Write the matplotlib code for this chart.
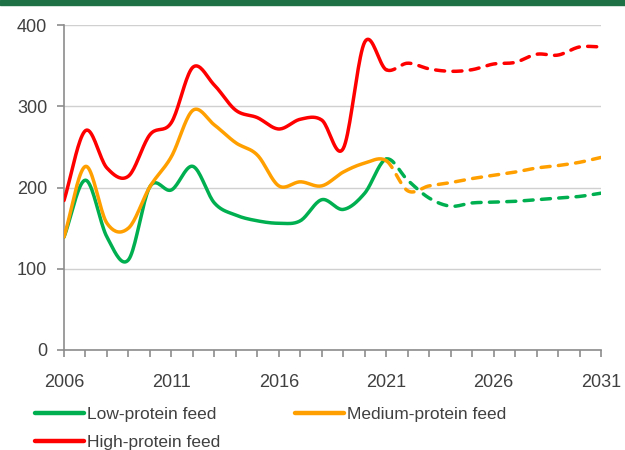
import numpy as np
import matplotlib.pyplot as plt

years = list(range(2006, 2032))
low = [139, 209, 139, 111, 201, 197, 226, 181, 166, 159, 156, 159, 185, 173, 193, 235,
       209, 187, 177, 181, 182, 183, 185, 187, 189, 193]
medium = [139, 226, 156, 150, 201, 238, 295, 277, 255, 240, 202, 207, 202, 219, 230, 233,
          196, 202, 206, 211, 215, 219, 224, 227, 231, 237]
high = [184, 270, 224, 214, 265, 280, 348, 326, 295, 286, 272, 284, 283, 248, 379, 345,
        353, 346, 343, 345, 352, 354, 364, 363, 373, 373]
last_actual = 2021

colors = {'Low-protein feed': '#00B050', 'Medium-protein feed': '#FFA000',
          'High-protein feed': '#FF0000'}


def smooth(x, y, n=20):
    # catmull-rom style curve through the points, like excel's smoothed line
    x = np.asarray(x, float)
    y = np.asarray(y, float)
    px = np.concatenate([[2 * x[0] - x[1]], x, [2 * x[-1] - x[-2]]])
    py = np.concatenate([[2 * y[0] - y[1]], y, [2 * y[-1] - y[-2]]])
    xs, ys = [], []
    for i in range(1, len(px) - 2):
        t = np.linspace(0, 1, n, endpoint=False)
        p0, p1, p2, p3 = py[i - 1], py[i], py[i + 1], py[i + 2]
        c1 = p1 + (p2 - p0) / 6
        c2 = p2 - (p3 - p1) / 6
        yy = (1 - t) ** 3 * p1 + 3 * (1 - t) ** 2 * t * c1 + 3 * (1 - t) * t ** 2 * c2 + t ** 3 * p2
        xx = px[i] + t * (px[i + 1] - px[i])
        xs.append(xx)
        ys.append(yy)
    xs.append([x[-1]])
    ys.append([y[-1]])
    return np.concatenate(xs), np.concatenate(ys)


plt.rcParams['font.family'] = ['Liberation Sans', 'DejaVu Sans']
fig = plt.figure(figsize=(6.25, 4.5), dpi=100)
ax = fig.add_axes([64 / 625, 1 - 350 / 450, 537 / 625, 325 / 450])

# green band across the top
fig.patches.append(plt.Rectangle((0, 1 - 5 / 450), 1, 5 / 450, transform=fig.transFigure,
                                 color='#1E7145', zorder=0))

handles = {}
for name, vals in [('Low-protein feed', low), ('Medium-protein feed', medium),
                   ('High-protein feed', high)]:
    xs, ys = smooth(years, vals)
    solid = xs <= last_actual
    dashed = xs >= last_actual
    h, = ax.plot(xs[solid], ys[solid], color=colors[name], lw=2.5, label=name,
                 solid_capstyle='round', zorder=3)
    ax.plot(xs[dashed], ys[dashed], color=colors[name], lw=2.5, ls=(0, (2.6, 2.4)),
            dash_capstyle='round', zorder=3)
    handles[name] = h

ax.set_xlim(2006, 2031)
ax.set_ylim(0, 400)
ax.set_xticks(range(2006, 2032, 5))
ax.set_xticks(years, minor=True)
ax.set_yticks(range(0, 401, 100))
ax.grid(axis='y', color='#D0D0D0', lw=1)
ax.set_axisbelow(True)
for s in ['top', 'right']:
    ax.spines[s].set_visible(False)
for s in ['left', 'bottom']:
    ax.spines[s].set_color('#8C8C8C')
    ax.spines[s].set_linewidth(1.2)
ax.tick_params(axis='both', which='both', direction='out', color='#8C8C8C', width=1.2,
               labelcolor='#404040', labelsize=13)
ax.tick_params(axis='x', which='both', length=5, pad=12)
ax.tick_params(axis='y', length=5, pad=7)

# matplotlib fills legend columns first, so order gives Low/Medium on row 1
order = ['Low-protein feed', 'High-protein feed', 'Medium-protein feed']
leg = fig.legend(handles=[handles[k] for k in order], loc='upper left',
                 bbox_to_anchor=(0.045, 0.112), ncol=2, frameon=False, fontsize=12.5,
                 labelcolor='#404040', handlelength=2.8, handletextpad=0.2,
                 columnspacing=4.3, borderaxespad=0, labelspacing=0.75)
for line in leg.get_lines():
    line.set_linewidth(3.2)

fig.savefig('out.png', dpi=100)
